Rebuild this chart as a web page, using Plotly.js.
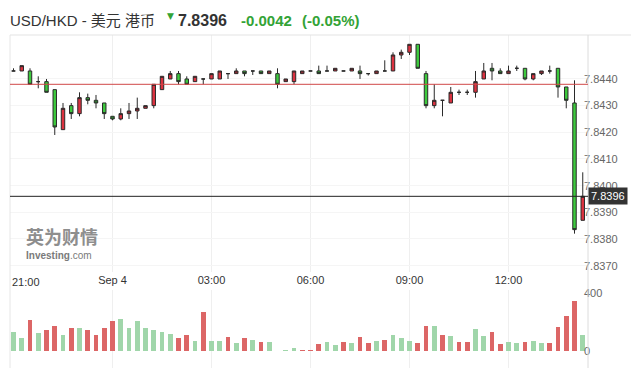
<!DOCTYPE html>
<html><head><meta charset="utf-8">
<script src="https://cdn.plot.ly/plotly-3.0.1.min.js"></script>
<style>html,body{margin:0;padding:0;background:#fff}#chart{width:631px;height:376px}</style>
</head><body><div id="chart"></div>
<script>
// ---- data ----
const startDay = '2018-09-03';
const startHour = 21;          // first candle 21:00
const barMinutes = 15;         // 15-minute candles
const openP = [7.8443,7.8443,7.8443,7.8439,7.8439,7.8436,7.8421,7.8430,7.8427,7.8433,
7.8432,7.8431,7.8426,7.8425,7.8427,7.8428,7.8429,7.8430,7.8436,7.8440,
7.8442,7.8440,7.8439,7.8440,7.8440,7.8440,7.8442,7.8442,7.8443,7.8443,
7.8443,7.8442,7.8442,7.8439,7.8439,7.8442,7.8443,7.8443,7.8443,7.8443,
7.8443,7.8443,7.8443,7.8442,7.8442,7.8443,7.8443,7.8449,7.8450,7.8453,
7.8442,7.8430,7.8432,7.8431,7.8435,7.8435,7.8435,7.8440,7.8444,7.8443,
7.8442,7.8444,7.8444,7.8440,7.8442,7.8443,7.8444,7.8437,7.8431,7.8387];
const highP = [7.8444,7.8445,7.8444,7.8441,7.8440,7.8436,7.8431,7.8431,7.8435,7.84345,
7.8434,7.8431,7.8426,7.8429,7.8431,7.8433,7.8430,7.8438,7.8441,7.8443,
7.8443,7.8441,7.8441,7.8440,7.8442,7.8443,7.8442,7.8444,7.8443,7.8443,
7.8443,7.8443,7.8444,7.8440,7.8443,7.8443,7.8443,7.8445,7.8445,7.8444,
7.8443,7.8444,7.8445,7.8442,7.8443,7.8447,7.8450,7.8451,7.8453,7.8453,
7.8443,7.8438,7.8432,7.8437,7.8436,7.8436,7.8443,7.8446,7.8446,7.8444,
7.8445,7.8445,7.8444,7.8442,7.8443,7.8445,7.8444,7.8437,7.84395,7.8405];
const lowP = [7.8443,7.8443,7.8438,7.84365,7.8435,7.8419,7.8421,7.8425,7.8426,7.84305,
7.8429,7.8425,7.84245,7.84245,7.8425,7.8425,7.8429,7.8429,7.8436,7.8440,
7.8438,7.8438,7.8439,7.8438,7.8440,7.8440,7.8440,7.8442,7.8441,7.84415,
7.8442,7.8442,7.84365,7.8439,7.8438,7.8442,7.8443,7.8442,7.8443,7.8443,
7.8443,7.8443,7.8440,7.84413,7.8442,7.8443,7.8443,7.84475,7.8449,7.8444,
7.8429,7.8429,7.8426,7.8431,7.8434,7.8434,7.8433,7.8440,7.84395,7.8442,
7.8442,7.8443,7.84395,7.84395,7.84415,7.8442,7.8433,7.8429,7.8382,7.8387];
const closeP = [7.8443,7.8445,7.8438,7.8439,7.8435,7.8422,7.8429,7.8427,7.8433,7.8432,
7.8431,7.8427,7.8425,7.8427,7.8428,7.8429,7.8430,7.8438,7.8441,7.8442,
7.8439,7.8438,7.8441,7.8440,7.8442,7.8443,7.8442,7.8443,7.8442,7.8443,
7.8442,7.8443,7.8438,7.8440,7.8443,7.8443,7.8443,7.8442,7.8443,7.8444,
7.8443,7.8444,7.8442,7.8442,7.8443,7.8443,7.8449,7.8450,7.8453,7.8444,
7.8430,7.8432,7.8432,7.8435,7.8435,7.8435,7.8439,7.8443,7.8443,7.8442,
7.8443,7.8444,7.8440,7.8442,7.8443,7.8443,7.8437,7.8432,7.83835,7.8396];
const volume = [131,94,215,129,150,178,115,164,164,150,
115,164,206,220,164,206,164,150,136,122,
94,115,73,268,73,73,101,59,94,80,
66,66,0,10,24,10,10,50,66,43,
66,59,101,59,73,80,115,94,73,59,
178,178,115,108,66,66,157,108,136,52,
66,59,66,73,59,59,171,247,345,115];
const tickVals = ['2018-09-04 00:00','2018-09-04 03:00','2018-09-04 06:00','2018-09-04 09:00','2018-09-04 12:00'];
const tickText = ['Sep 4','03:00','06:00','09:00','12:00'];
const firstTickText = '21:00';
const priceTicks = [7.837,7.838,7.839,7.840,7.841,7.842,7.843,7.844];
const volTicks = [0,400];
const lastPrice = 7.8396;
const prevClose = 7.8438;
const titleText = 'USD/HKD - 美元 港币';
const priceText = '7.8396';
const changeText = '-0.0042';
const changePctText = '(-0.05%)';

// ---- time axis ----
function pad(n){return (n<10?'0':'')+n;}
const times = openP.map((_, i) => {
  const m = startHour*60 + i*barMinutes;
  const day = 3 + Math.floor(m/1440);
  const mm = m % 1440;
  return '2018-09-' + pad(day) + ' ' + pad(Math.floor(mm/60)) + ':' + pad(mm%60);
});
const volColors = closeP.map((c, i) => (i === 0 || c > closeP[i-1] + 1e-9) ? '#a0d6aa' : '#dc6666');

const xRange = ['2018-09-03 20:53:38', '2018-09-04 14:24:33'];
const F = '"Liberation Sans", Arial, "Noto Sans CJK SC", sans-serif';
const GREEN = '#33a336';

const traces = [
  {type:'candlestick', x:times, open:openP, high:highP, low:lowP, close:closeP,
   xaxis:'x', yaxis:'y', whiskerwidth:0, hoverinfo:'none',
   increasing:{line:{color:'#2a2a2a', width:1}, fillcolor:'#dc3240'},
   decreasing:{line:{color:'#2a2a2a', width:1}, fillcolor:'#3dca3d'}},
  {type:'bar', x:times, y:volume, xaxis:'x2', yaxis:'y2', width:495000,
   marker:{color:volColors, line:{width:0}}, hoverinfo:'none'}
];

const px = X => (X-10)/578;      // pixel -> paper x
const py = Y => (368-Y)/333;     // pixel -> paper y

const layout = {
  width:631, height:376,
  margin:{l:10, r:43, t:35, b:8},
  paper_bgcolor:'#fff', plot_bgcolor:'#fff',
  showlegend:false, boxgap:0.4, bargap:0,
  font:{family:F, size:11, color:'#333'},
  xaxis:{type:'date', range:xRange, anchor:'y', rangeslider:{visible:false},
    tickmode:'array', tickvals:tickVals, ticktext:tickText, ticks:'',
    showgrid:true, gridcolor:'#efefef', zeroline:false, showline:false,
    tickfont:{family:F, size:11, color:'#333'}},
  yaxis:{domain:[py(272),1], range:[7.836762,7.845649], side:'right',
    anchor:'free', position:1-5/578,
    tickmode:'array', tickvals:priceTicks, tickformat:'.4f', ticks:'',
    showgrid:true, gridcolor:'#f5f5f5', zeroline:false, showline:false,
    tickfont:{family:F, size:11, color:'#666'}},
  xaxis2:{type:'date', range:xRange, anchor:'y2', showticklabels:false,
    tickmode:'array', tickvals:tickVals, ticks:'',
    showgrid:true, gridcolor:'#efefef', zeroline:false, showline:false},
  yaxis2:{domain:[0,py(290)], range:[-115,423], side:'right',
    anchor:'free', position:1-5/578,
    tickmode:'array', tickvals:volTicks, ticks:'', showgrid:false, zeroline:false,
    tickfont:{family:F, size:11, color:'#666'}},
  shapes:[
    {type:'line', xref:'paper', yref:'paper', x0:0, x1:px(631), y0:1, y1:1, line:{color:'#e3e3e3', width:1}},
    {type:'line', xref:'paper', yref:'paper', x0:0, x1:0, y0:0, y1:1, line:{color:'#e6e6e6', width:1}},
    {type:'line', xref:'paper', yref:'paper', x0:1, x1:1, y0:0, y1:1, line:{color:'#dcdcdc', width:1}},
    {type:'line', xref:'paper', yref:'y', x0:0, x1:1, y0:prevClose, y1:prevClose, line:{color:'#d04848', width:1}},
    {type:'line', xref:'paper', yref:'y', x0:0, x1:1, y0:lastPrice, y1:lastPrice, line:{color:'#222', width:1}}
  ],
  annotations:[
    {xref:'paper', yref:'paper', x:px(8), y:py(20), xanchor:'left', yanchor:'middle', showarrow:false,
     text:titleText, font:{family:F, size:15, color:'#333'}},
    {xref:'paper', yref:'paper', x:px(170), y:py(16), xanchor:'center', yanchor:'middle', showarrow:false,
     text:'▼', font:{family:'DejaVu Sans', size:9, color:GREEN}},
    {xref:'paper', yref:'paper', x:px(176), y:py(20), xanchor:'left', yanchor:'middle', showarrow:false,
     text:'<b>'+priceText+'</b>', font:{family:F, size:16, color:'#333'}},
    {xref:'paper', yref:'paper', x:px(239), y:py(20), xanchor:'left', yanchor:'middle', showarrow:false,
     text:'<b>'+changeText+'</b>', font:{family:F, size:15, color:GREEN}},
    {xref:'paper', yref:'paper', x:px(300), y:py(20), xanchor:'left', yanchor:'middle', showarrow:false,
     text:'<b>'+changePctText+'</b>', font:{family:F, size:15, color:GREEN}},
    {xref:'paper', yref:'y', x:1, y:lastPrice, xanchor:'left', yanchor:'middle', showarrow:false,
     text:priceText, bgcolor:'#333', borderpad:2, font:{family:F, size:11, color:'#fff'}},
    {xref:'paper', yref:'paper', x:0, y:py(282), xanchor:'left', yanchor:'middle', showarrow:false,
     text:firstTickText, font:{family:F, size:11, color:'#333'}},
    {xref:'paper', yref:'paper', x:px(24), y:py(236), xanchor:'left', yanchor:'middle', showarrow:false,
     text:'<b>英为财情</b>', font:{family:'"Noto Sans CJK SC", sans-serif', size:18, color:'#8e8e8e'}},
    {xref:'paper', yref:'paper', x:px(24), y:py(255), xanchor:'left', yanchor:'middle', showarrow:false,
     text:'<b>Investing</b>.com', font:{family:F, size:10, color:'#7a7a7a'}}
  ]
};

Plotly.newPlot('chart', traces, layout, {staticPlot:true, displayModeBar:false});
</script>
</body></html>
